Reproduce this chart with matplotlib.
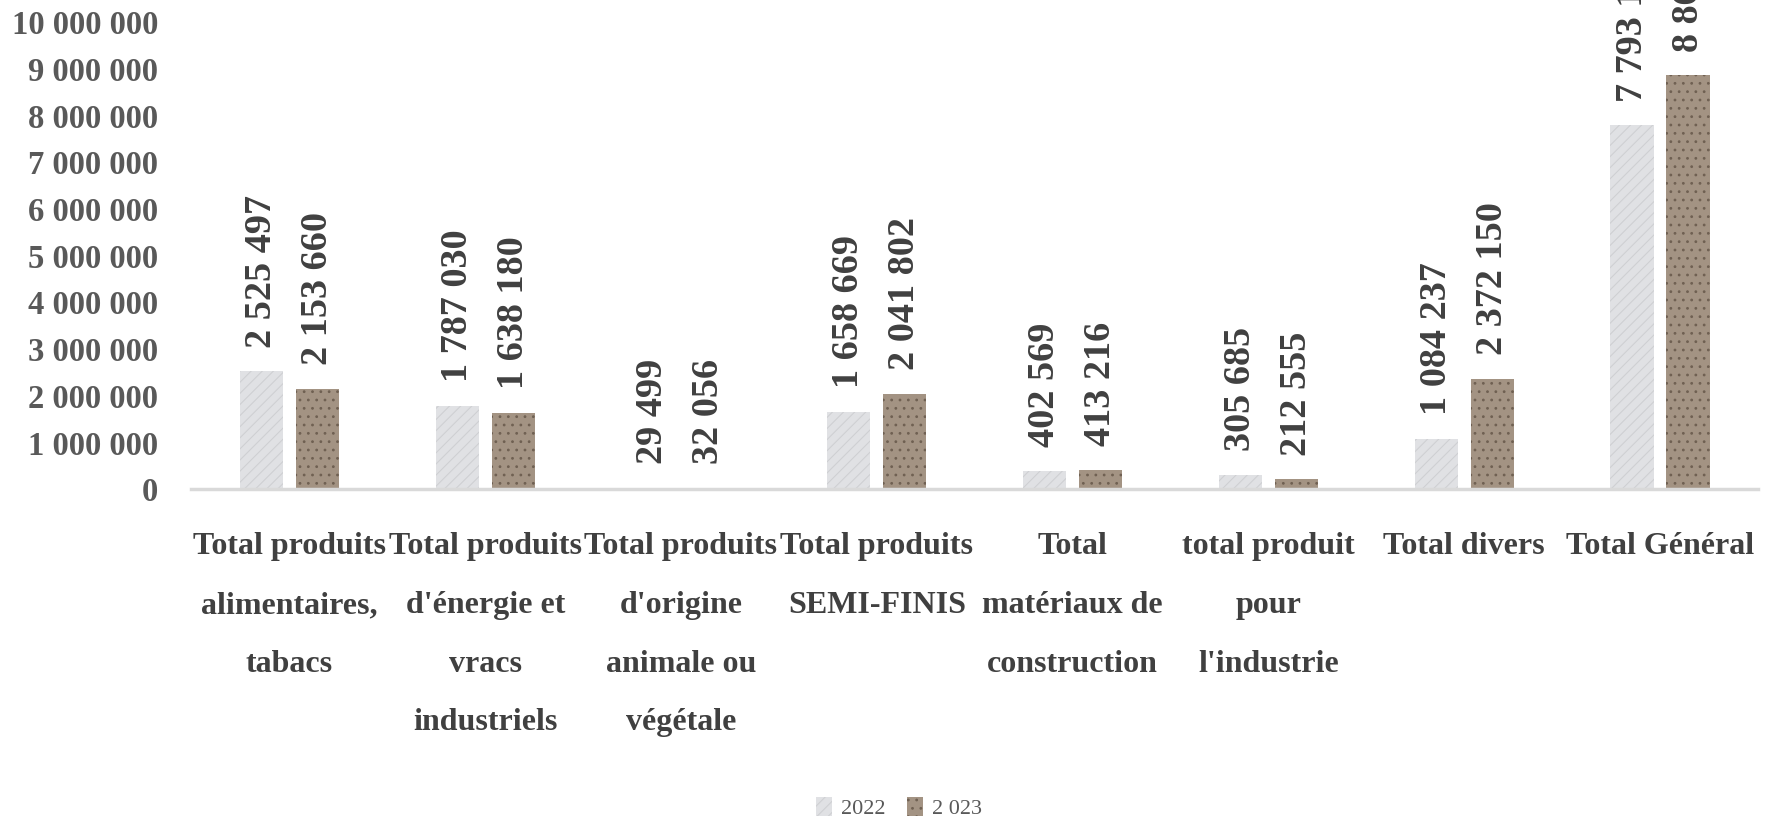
import matplotlib
matplotlib.use("Agg")
import matplotlib.pyplot as plt
import numpy as np

categories = [
    "Total produits\nalimentaires,\ntabacs",
    "Total produits\nd'énergie et\nvracs\nindustriels",
    "Total produits\nd'origine\nanimale ou\nvégétale",
    "Total produits\nSEMI-FINIS",
    "Total\nmatériaux de\nconstruction",
    "total produit\npour\nl'industrie",
    "Total divers",
    "Total Général",
]
values_2022 = [2525497, 1787030, 29499, 1658669, 402569, 305685, 1084237, 7793186]
values_2023 = [2153660, 1638180, 32056, 2041802, 413216, 212555, 2372150, 8863619]
series_names = ["2022", "2 023"]
yticks = [0, 1000000, 2000000, 3000000, 4000000, 5000000, 6000000, 7000000, 8000000, 9000000, 10000000]


def fmt(v):
    return f"{v:,}".replace(",", " ")


plt.rcParams['font.family'] = ['Liberation Serif', 'DejaVu Serif']
plt.rcParams['hatch.linewidth'] = 0.8

fig = plt.figure(figsize=(17.73, 8.21), dpi=100)
ax = fig.add_axes([0.108, 0.404, 0.8835, 0.569])

x = np.arange(len(categories))
w = 0.22
off = 0.143
b1 = ax.bar(x - off, values_2022, w, color="#e0e1e4", edgecolor="#cfd0d3",
            hatch="///", linewidth=0, label=series_names[0])
b2 = ax.bar(x + off, values_2023, w, color="#a39383", edgecolor="#6f6052",
            hatch="..", linewidth=0, label=series_names[1])

for bars, vals in ((b1, values_2022), (b2, values_2023)):
    for rect, v in zip(bars, vals):
        ax.annotate(fmt(v), (rect.get_x() + rect.get_width() / 2, v),
                    xytext=(0, 17), textcoords="offset points",
                    rotation=90, ha="center", va="bottom",
                    fontsize=27.5, fontweight="bold", color="#404040",
                    annotation_clip=False)

ax.set_xlim(-0.5, len(categories) - 0.5)
ax.set_ylim(0, 10000000)
ax.set_yticks(yticks)
ax.set_yticklabels([fmt(t) for t in yticks], fontsize=23.5, fontweight="bold", color="#595959")
ax.set_xticks(x)
ax.set_xticklabels(categories, fontsize=23, fontweight="bold", color="#404040",
                   linespacing=2.35, va="top")
ax.tick_params(axis="both", length=0)
ax.tick_params(axis="x", pad=31)
ax.tick_params(axis="y", pad=24)
for s in ("top", "right", "left"):
    ax.spines[s].set_visible(False)
ax.spines["bottom"].set_color("#d9d9d9")
ax.spines["bottom"].set_linewidth(2.5)

leg = fig.legend(handles=[b1, b2], labels=series_names, loc="lower center",
                 bbox_to_anchor=(0.507, -0.022), ncol=2, frameon=False,
                 fontsize=16, handlelength=0.7, handleheight=0.9,
                 handletextpad=0.4, columnspacing=1.0)
for t in leg.get_texts():
    t.set_color("#595959")

fig.savefig("out.png", dpi=100)
